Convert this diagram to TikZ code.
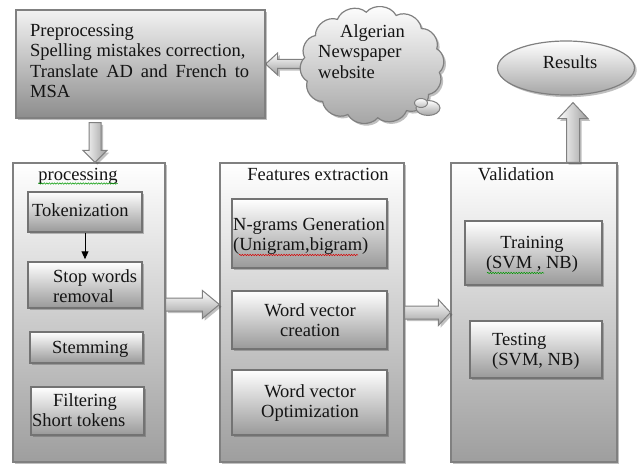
\documentclass[tikz,border=0pt]{standalone}
\usepackage{fontspec}
\setmainfont{Liberation Serif}
\usetikzlibrary{shapes.geometric,shadows,calc,arrows.meta,decorations.pathmorphing}
\pgfdeclarelayer{back}
\pgfdeclarelayer{bg}
\pgfsetlayers{back,bg,main}
\definecolor{lineg}{gray}{0.5}
\definecolor{innerline}{gray}{0.45}
\definecolor{txtc}{gray}{0.08}
\definecolor{outbot}{gray}{0.62}
\definecolor{inbot}{gray}{0.6}
\definecolor{pretop}{gray}{0.95}
\definecolor{prebot}{gray}{0.55}
\definecolor{arrg}{gray}{0.62}
\newcommand\tstr{\rule{0pt}{14pt}}
% right-pointing block arrow: tail #1, tip #2 (y from #1)
\newcommand\ArrR[5]{\path[blockh] let \p1=(#1), \p2=(#2) in (\x1,\y1+#3) -- (\x2-#5,\y1+#3) -- (\x2-#5,\y1+#4) -- (\x2,\y1) -- (\x2-#5,\y1-#4) -- (\x2-#5,\y1-#3) -- (\x1,\y1-#3) -- cycle;}
% left-pointing block arrow: tail #1, tip #2 (y from #2)
\newcommand\ArrL[5]{\path[blockh] let \p1=(#1), \p2=(#2) in (\x1,\y2+#3) -- (\x2+#5,\y2+#3) -- (\x2+#5,\y2+#4) -- (\x2,\y2) -- (\x2+#5,\y2-#4) -- (\x2+#5,\y2-#3) -- (\x1,\y2-#3) -- cycle;}
% down-pointing block arrow: tail #1, tip #2 (x from #1)
\newcommand\ArrD[5]{\path[blockv] let \p1=(#1), \p2=(#2) in (\x1-#3,\y1) -- (\x1-#3,\y2+#5) -- (\x1-#4,\y2+#5) -- (\x1,\y2) -- (\x1+#4,\y2+#5) -- (\x1+#3,\y2+#5) -- (\x1+#3,\y1) -- cycle;}
% up-pointing block arrow: tail #1, tip #2 (x from #1)
\newcommand\ArrU[5]{\path[blockv] let \p1=(#1), \p2=(#2) in (\x1-#3,\y1) -- (\x1-#3,\y2-#5) -- (\x1-#4,\y2-#5) -- (\x1,\y2) -- (\x1+#4,\y2-#5) -- (\x1+#3,\y2-#5) -- (\x1+#3,\y1) -- cycle;}
\tikzset{
  shad/.style={drop shadow={shadow xshift=2.2pt, shadow yshift=-2.2pt, opacity=0.35, fill=black!70}},
  outerbox/.style={rectangle, draw=lineg, line width=1.2pt, top color=white, bottom color=outbot, inner sep=0pt, shad},
  innerbox/.style={rectangle, draw=innerline, line width=1.5pt, top color=white, bottom color=inbot, inner sep=0pt, shad},
  txt/.style={inner sep=0pt, text=txtc},
  blockh/.style={draw=lineg, line width=1pt, top color=white, bottom color=arrg, shad},
  blockv/.style={draw=lineg, line width=1pt, left color=white, right color=arrg, shad},
  cloudsty/.style={draw=lineg, line width=1.2pt, top color=white, bottom color=gray!72, shad},
  wavy/.style={decorate, decoration={snake, amplitude=0.7pt, segment length=2.6pt}, line width=0.5pt},
}
\begin{document}
\begin{tikzpicture}[x=1pt, y=-1pt, font=\fontsize{18.5}{20.5}\selectfont]
\begin{pgfonlayer}{back}
\fill[white] (0,0) rectangle (644,465);
\end{pgfonlayer}
\useasboundingbox (0,0) rectangle (644,465);

% ---- top row ----
\node[outerbox, top color=pretop, bottom color=prebot, minimum width=249pt, minimum height=108pt] (pre) at (140.5,64) {};
\node[txt, anchor=north west, align=left] (pretxt) at (30,22) {\tstr Preprocessing\\ Spelling mistakes correction,\\ \makebox[219pt][s]{Translate AD and French to}\\ MSA};

% cloud (drawn as a path of puffs)
\coordinate (cld) at (372,65);
\coordinate (cldw) at (304,65);
\begin{scope}[shift={(372,65)}]
\path[cloudsty] (8:68 and 53) \foreach \i in {1,...,14} { to[bend left=55] ({8+\i*360/14}:68 and 53) } -- cycle;
\end{scope}
\node[ellipse, draw=lineg, line width=1pt, top color=white, bottom color=gray!70, minimum width=24pt, minimum height=15pt, inner sep=0pt] (bub1) at (428,108) {};
\node[ellipse, draw=lineg, line width=1pt, top color=white, bottom color=gray!50, minimum width=13pt, minimum height=9pt, inner sep=0pt] (bub2) at (421,103) {};
\node[txt, anchor=north west, align=left] (cldtxt) at (318,23) {\tstr\hspace*{22pt}Algerian\\Newspaper\\website};

\node[ellipse, draw=lineg, line width=1.2pt, top color=white, bottom color=gray!70, minimum width=137pt, minimum height=54pt, inner sep=0pt, shad] (res) at (566,68) {};
\node[txt, anchor=base] (restxt) at (570,69) {Results};

% ---- bottom row: outer boxes ----
\node[outerbox, minimum width=152pt, minimum height=299pt] (proc) at (89,312.5) {};
\node[outerbox, minimum width=184pt, minimum height=299pt] (feat) at (312,312.5) {};
\node[outerbox, minimum width=166pt, minimum height=299pt] (val) at (534,312.5) {};

\node[txt, anchor=base] (proctitle) at (78,180) {processing};
\node[txt, anchor=base] (feattitle) at (318,180) {Features extraction};
\node[txt, anchor=base] (valtitle) at (516,180) {Validation};
\draw[wavy, green!60!black] ([yshift=-3.5pt]proctitle.base west) -- ([yshift=-3.5pt]proctitle.base east);

% ---- processing inner boxes ----
\node[innerbox, minimum width=114pt, minimum height=40pt] (tok) at (85,212) {};
\node[txt, anchor=base west] (toktxt) at (32,216.5) {Tokenization};
\node[innerbox, minimum width=114pt, minimum height=46pt] (stop) at (85,285) {};
\node[txt, anchor=north west, align=left] (stoptxt) at (53,268) {\tstr Stop words\\removal};
\node[innerbox, minimum width=113pt, minimum height=31pt] (stem) at (86.5,347.5) {};
\node[txt, anchor=base west] (stemtxt) at (52,353) {Stemming};
\node[innerbox, minimum width=113pt, minimum height=48pt] (filt) at (87.5,411) {};
\node[txt, anchor=north west, align=left] (filttxt) at (32,392) {\tstr\hspace*{21pt}Filtering\\Short tokens};
\draw[line width=1pt, -{Triangle[length=8pt,width=7pt]}] (tok.south) -- ([yshift=2pt]stop.north);

% ---- features inner boxes ----
\node[innerbox, minimum width=155pt, minimum height=69pt] (ngr) at (309.5,233.5) {};
\node[txt, anchor=north west, align=left] (ngrtxt) at (233,216) {\tstr N-grams Generation\\(Unigram,bigram)};
\draw[wavy, red!85!black] (239,255) -- (358,255);
\node[innerbox, minimum width=155pt, minimum height=58pt] (wvc) at (309.5,320) {};
\node[txt, anchor=north, align=center] (wvctxt) at (310,302) {\tstr Word vector\\creation};
\node[innerbox, minimum width=155pt, minimum height=65pt] (wvo) at (309.5,402.5) {};
\node[txt, anchor=north, align=center] (wvotxt) at (310,383) {\tstr Word vector\\Optimization};

% ---- validation inner boxes ----
\node[innerbox, minimum width=137pt, minimum height=64pt] (train) at (533.5,253) {};
\node[txt, anchor=north, align=center] (traintxt) at (532,234) {\tstr Training\\(SVM , NB)};
\draw[wavy, green!60!black] (487,273) -- (544,273);
\node[innerbox, minimum width=132pt, minimum height=57pt] (test) at (536,349.5) {};
\node[txt, anchor=north west, align=left] (testtxt) at (492,331) {\tstr Testing\\(SVM, NB)};

% ---- block arrows ----
\begin{pgfonlayer}{bg}
\ArrL{cldw}{pre.east}{4.5pt}{11pt}{12pt}
\end{pgfonlayer}
\ArrD{[xshift=-45.5pt,yshift=-4pt]pre.south}{proc.north}{6pt}{12pt}{12pt}
\ArrR{[yshift=8pt]proc.east}{feat.west}{6.5pt}{14pt}{17pt}
\ArrR{feat.east}{val.west}{6.5pt}{13pt}{12pt}
\ArrU{[xshift=39pt]val.north}{[yshift=-7pt]res.south}{6.5pt}{15pt}{16pt}
\end{tikzpicture}
\end{document}
